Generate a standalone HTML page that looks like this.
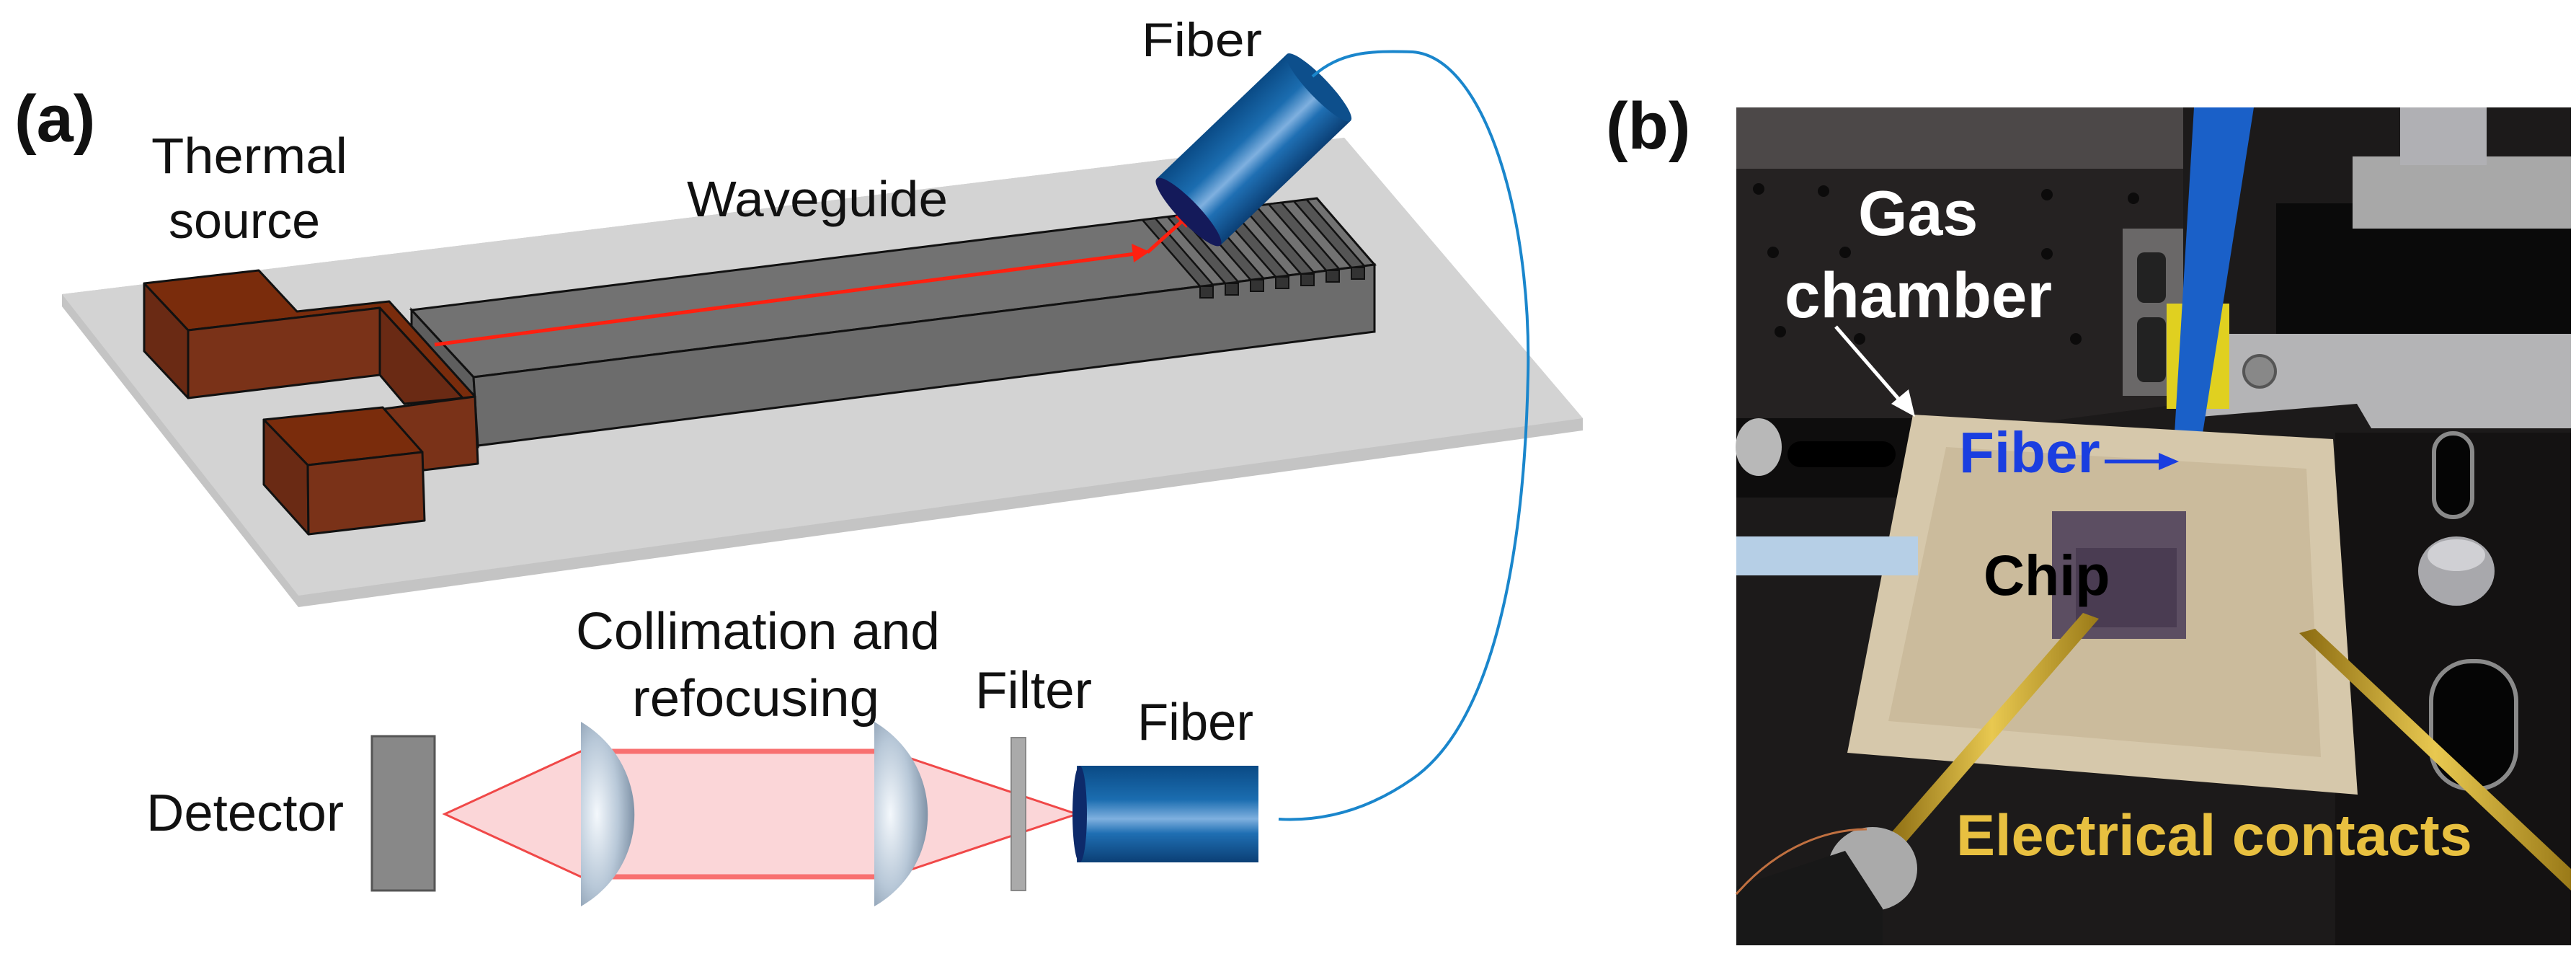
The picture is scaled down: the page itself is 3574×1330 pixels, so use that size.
<!DOCTYPE html>
<html><head><meta charset="utf-8"><style>
html,body{margin:0;padding:0;background:#fff}
svg{display:block}
</style></head><body>
<svg width="3574" height="1330" viewBox="0 0 3574 1330" xmlns="http://www.w3.org/2000/svg">
<defs>
<linearGradient id="fib" x1="0" y1="0" x2="0" y2="1">
<stop offset="0" stop-color="#0a4a85"/><stop offset="0.35" stop-color="#1b6db0"/><stop offset="0.55" stop-color="#7fb0df"/><stop offset="0.7" stop-color="#1f6fb3"/><stop offset="1" stop-color="#0b3f75"/>
</linearGradient>
<radialGradient id="lens" cx="0.3" cy="0.5" r="0.8">
<stop offset="0" stop-color="#f4f8fc"/><stop offset="0.5" stop-color="#b8c8d8"/><stop offset="1" stop-color="#6c8096"/>
</radialGradient>
<linearGradient id="gold" x1="0" y1="0" x2="1" y2="0">
<stop offset="0" stop-color="#8a6a10"/><stop offset="0.5" stop-color="#e8c850"/><stop offset="1" stop-color="#9a7a18"/>
</linearGradient>
</defs>

<!-- plate -->
<polygon points="86,408 1865,191 2196,580 2196,597 414,842 86,425" fill="#c4c4c4"/>
<polygon points="86,408 1865,191 2196,580 414,826" fill="#d3d3d3"/>

<!-- waveguide -->
<polygon points="571,430 1827,275 1907,367 657,523" fill="#727272" stroke="#111" stroke-width="3"/>
<polygon points="571,430 657,523 663,618 571,520" fill="#5e5e5e" stroke="#111" stroke-width="3"/>
<polygon points="657,523 1907,367 1907,460 663,618" fill="#6c6c6c" stroke="#111" stroke-width="3"/>
<!-- grating -->
<g stroke="#111" stroke-width="2.5" fill="#555">
<polygon points="1665,397 1683,395 1603,303 1585,305"/>
<polygon points="1700,393 1718,391 1638,299 1620,301"/>
<polygon points="1735,388 1753,386 1673,294 1655,296"/>
<polygon points="1770,384 1788,382 1708,290 1690,292"/>
<polygon points="1805,380 1823,378 1743,286 1725,288"/>
<polygon points="1840,375 1858,373 1778,281 1760,283"/>
<polygon points="1875,371 1893,369 1813,277 1795,279"/>
</g>
<g fill="#333" stroke="#111" stroke-width="2">
<rect x="1665" y="397" width="18" height="16"/><rect x="1700" y="393" width="18" height="16"/><rect x="1735" y="388" width="18" height="16"/><rect x="1770" y="384" width="18" height="16"/><rect x="1805" y="380" width="18" height="16"/><rect x="1840" y="375" width="18" height="16"/><rect x="1875" y="371" width="18" height="16"/>
</g>

<!-- thermal source -->
<g stroke="#111" stroke-width="3" stroke-linejoin="round">
<polygon points="200,393 359,375 412,432 540,418 659,550 642,552 527,427 261,458" fill="#7a2c0c"/>
<polygon points="200,393 261,458 261,552 200,487" fill="#6a2a14"/>
<polygon points="261,458 527,427 527,520 261,552" fill="#7a3218"/>
<polygon points="527,427 642,552 561,560 527,520" fill="#6a2a14"/>
<polygon points="533,567 659,550 663,643 588,652" fill="#7a3218"/>
<polygon points="366,582 531,565 586,627 427,645" fill="#7a2c0c"/>
<polygon points="366,582 427,645 428,741 366,672" fill="#6a2a14"/>
<polygon points="427,645 586,627 589,722 428,741" fill="#7a3218"/>
</g>

<!-- red beam on waveguide -->
<line x1="603" y1="478" x2="1575" y2="352" stroke="#ff2010" stroke-width="5"/>
<polygon points="1595,349 1570,338 1573,364" fill="#ff2010"/>
<line x1="1592" y1="350" x2="1642" y2="305" stroke="#ff2010" stroke-width="5"/>
<polygon points="1656,292 1630,300 1646,316" fill="#ff2010"/>

<!-- top fiber -->
<g transform="translate(1649,294) rotate(-43.7)">
<rect x="0" y="-64" width="250" height="128" fill="url(#fib)"/>
<ellipse cx="250" cy="0" rx="14" ry="64" fill="#0d4f8c"/>
<ellipse cx="0" cy="0" rx="15" ry="64" fill="#141a5a"/>
</g>

<!-- wire -->
<path d="M1821,106 C1860,72 1900,70 1960,72 C2060,80 2125,300 2120,520 C2115,760 2075,1000 1960,1080 C1880,1136 1810,1138 1774,1136" fill="none" stroke="#1a86cc" stroke-width="4"/>

<!-- bottom optics -->
<polygon points="617,1129 806,1042 1234,1042 1494,1129 1234,1216 806,1216" fill="#fbd6d8" stroke="#f04848" stroke-width="3"/>
<line x1="806" y1="1042" x2="1234" y2="1042" stroke="#f87070" stroke-width="7"/>
<line x1="806" y1="1216" x2="1234" y2="1216" stroke="#f87070" stroke-width="7"/>
<rect x="516" y="1021" width="87" height="214" fill="#888" stroke="#555" stroke-width="3"/>
<path d="M806,1001 C905,1060 905,1200 806,1257 Z" fill="url(#lens)"/>
<path d="M1213,1001 C1312,1060 1312,1200 1213,1257 Z" fill="url(#lens)"/>
<rect x="1403" y="1023" width="20" height="212" fill="#aaa" stroke="#888" stroke-width="2"/>
<rect x="1494" y="1062" width="252" height="134" fill="url(#fib)"/>
<ellipse cx="1498" cy="1129" rx="10" ry="67" fill="#0d2a6a"/>

<!-- left texts -->
<g font-family="Liberation Sans, Arial, sans-serif" fill="#111">
<text x="20" y="196" font-size="92" font-weight="bold">(a)</text>
<text x="210" y="240" font-size="70" textLength="272" lengthAdjust="spacingAndGlyphs">Thermal</text>
<text x="234" y="330" font-size="70">source</text>
<text x="953" y="300" font-size="70" textLength="362" lengthAdjust="spacingAndGlyphs">Waveguide</text>
<text x="1584" y="78" font-size="66" textLength="167" lengthAdjust="spacingAndGlyphs">Fiber</text>
<text x="799" y="900" font-size="72" textLength="505" lengthAdjust="spacingAndGlyphs">Collimation and</text>
<text x="877" y="993" font-size="72" textLength="343" lengthAdjust="spacingAndGlyphs">refocusing</text>
<text x="203" y="1152" font-size="72" textLength="274" lengthAdjust="spacingAndGlyphs">Detector</text>
<text x="1353" y="982" font-size="72" textLength="162" lengthAdjust="spacingAndGlyphs">Filter</text>
<text x="1578" y="1026" font-size="72" textLength="161" lengthAdjust="spacingAndGlyphs">Fiber</text>
<text x="2228" y="206" font-size="92" font-weight="bold">(b)</text>
</g>

<!-- photo -->
<g>
<rect x="2409" y="149" width="1158" height="1162" fill="#1c1a1a"/>
<rect x="2409" y="149" width="620" height="85" fill="#4c4848"/>
<polygon points="2409,234 3029,234 3029,560 2409,640" fill="#252222"/>
<g fill="#0c0b0b">
<circle cx="2440" cy="262" r="8"/><circle cx="2530" cy="265" r="8"/><circle cx="2840" cy="270" r="8"/><circle cx="2960" cy="275" r="8"/>
<circle cx="2460" cy="350" r="8"/><circle cx="2560" cy="350" r="8"/><circle cx="2840" cy="352" r="8"/><circle cx="2960" cy="360" r="8"/>
<circle cx="2470" cy="460" r="8"/><circle cx="2580" cy="470" r="8"/><circle cx="2880" cy="470" r="8"/><circle cx="2980" cy="480" r="8"/>
</g>
<rect x="2409" y="580" width="250" height="110" fill="#0e0d0d"/>
<rect x="2480" y="612" width="150" height="36" rx="18" fill="#000"/>
<ellipse cx="2440" cy="620" rx="32" ry="40" fill="#b8b8b8"/>
<rect x="2945" y="317" width="84" height="232" fill="#6a6868"/>
<rect x="2965" y="350" width="40" height="70" rx="10" fill="#222"/>
<rect x="2965" y="440" width="40" height="90" rx="10" fill="#222"/>
<rect x="3158" y="282" width="409" height="243" fill="#0a0a0a"/>
<rect x="3264" y="217" width="303" height="100" fill="#a8a8a8"/>
<rect x="3330" y="149" width="120" height="80" fill="#b0b0b4"/>
<polygon points="3029,463 3567,463 3567,594 3290,594 3270,560 3029,580" fill="#b4b4b6"/>
<circle cx="3135" cy="515" r="22" fill="#888" stroke="#555" stroke-width="4"/>
<rect x="3006" y="421" width="87" height="146" fill="#e0d020"/>
<polygon points="3044,149 3127,149 3056,601 3017,601" fill="#1a60c8"/>
<rect x="3017" y="598" width="29" height="305" fill="#eeeef4"/>
<polygon points="3240,600 3567,600 3567,1311 3240,1311" fill="#141212"/>
<rect x="3377" y="601" width="53" height="116" rx="26" fill="#050505" stroke="#8a8a8a" stroke-width="6"/>
<rect x="3373" y="917" width="118" height="177" rx="55" fill="#050505" stroke="#8a8a8a" stroke-width="6"/>
<ellipse cx="3408" cy="792" rx="53" ry="48" fill="#a8a8ac"/>
<ellipse cx="3408" cy="770" rx="40" ry="22" fill="#d0d0d4"/>
<polygon points="2654,575 3237,609 3271,1102 2563,1044" fill="#d6c8ab"/>
<polygon points="2700,620 3200,650 3220,1050 2620,1000" fill="#cbbb9c"/>
<rect x="2409" y="744" width="252" height="54" fill="#b6cfe6"/>
<rect x="2847" y="709" width="186" height="177" fill="#5c4e62"/>
<rect x="2880" y="760" width="140" height="110" fill="#4a3c52"/>
<polygon points="2890,850 2912,858 2638,1175 2615,1165" fill="url(#gold)"/>
<polygon points="3190,878 3212,872 3567,1205 3567,1235" fill="url(#gold)"/>
<ellipse cx="2598" cy="1205" rx="62" ry="58" fill="#aaa"/>
<polygon points="2409,1230 2560,1180 2612,1260 2612,1311 2409,1311" fill="#181818"/>
<path d="M2409,1240 C2470,1170 2540,1150 2590,1150" fill="none" stroke="#c07040" stroke-width="3"/>
</g>
<g font-family="Liberation Sans, Arial, sans-serif" font-weight="bold">
<text x="2578" y="326" font-size="88" fill="#fff">Gas</text>
<text x="2476" y="440" font-size="89" fill="#fff">chamber</text>
<text x="2718" y="655" font-size="80" fill="#1a3ee0">Fiber</text>
<text x="2752" y="825" font-size="79" fill="#000">Chip</text>
<text x="2714" y="1186" font-size="81" fill="#e8c040">Electrical contacts</text>
</g>
<line x1="2547" y1="453" x2="2640" y2="560" stroke="#fff" stroke-width="5"/>
<polygon points="2657,578 2624,560 2648,540" fill="#fff"/>
<line x1="2920" y1="640" x2="3000" y2="640" stroke="#1a3ee0" stroke-width="5"/>
<polygon points="3023,640 2995,628 2995,652" fill="#1a3ee0"/>
</svg>
</body></html>
